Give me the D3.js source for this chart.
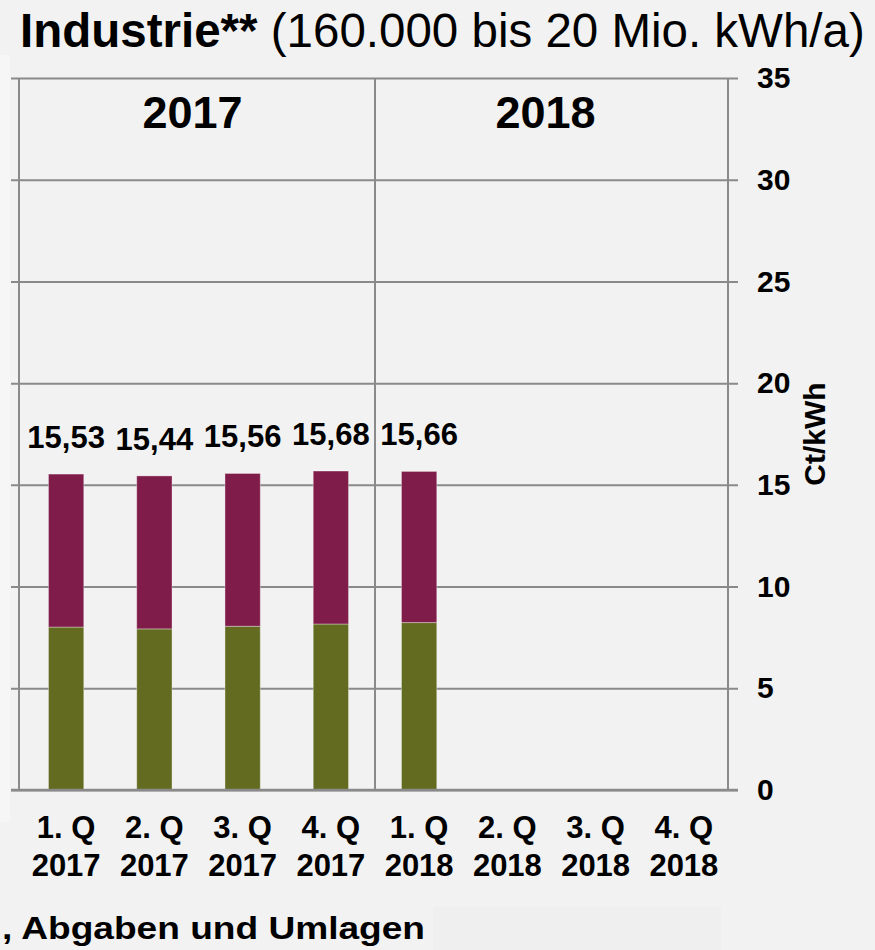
<!DOCTYPE html>
<html>
<head>
<meta charset="utf-8">
<script src="https://cdn.jsdelivr.net/npm/d3@7"></script>
<style>
  html, body { margin: 0; padding: 0; background: #f2f2f2; }
  svg { display: block; font-family: "Liberation Sans", Arial, sans-serif; }
  .grid line { stroke: #8a8a8a; stroke-width: 2; }
  .grid text { font-size: 30px; font-weight: bold; fill: #000; }
</style>
</head>
<body>
<svg id="chart" width="875" height="950"></svg>
<script>
// quarters shown on the x axis (label line 1 / line 2)
var quarters = ["1. Q", "2. Q", "3. Q", "4. Q", "1. Q", "2. Q", "3. Q", "4. Q"]
var quarterYears = ["2017", "2017", "2017", "2017", "2018", "2018", "2018", "2018"]
var years = ["2017", "2018"]

// Ct/kWh, only the first five quarters have values
var netzEnergie = [8.01, 7.92, 8.05, 8.16, 8.23]      // green part
var steuernAbgaben = [7.52, 7.52, 7.51, 7.52, 7.43]   // maroon part

var yTicks = [0, 5, 10, 15, 20, 25, 30, 35]

var svg = d3.select("#chart")

// background pieces
svg.append("rect").attr("width", 875).attr("height", 950).attr("fill", "#f2f2f2")
svg.append("rect").attr("x", 0).attr("y", 55).attr("width", 10).attr("height", 767).attr("fill", "#f6f6f6")
svg.append("rect").attr("x", 433).attr("y", 907).attr("width", 288).attr("height", 43).attr("fill", "#efefef")

var x = d3.scaleBand()
  .domain(d3.range(quarters.length))
  .range([22, 728])
  .paddingInner(0.6)
  .paddingOuter(0.3)

var y = d3.scaleLinear().domain([0, 35]).range([790, 78])

// gridlines + right hand tick labels
var yAxis = d3.axisRight(y)
  .tickValues(yTicks)
  .tickSize(727)
  .tickPadding(19)
  .tickFormat(d3.format("d"))

svg.append("g")
  .attr("class", "grid")
  .attr("transform", "translate(11,0)")
  .call(yAxis)
  .call(function(g){ g.select(".domain").remove() })

// vertical separators: left edge, between years, right axis
var step = x.step()
var xEdges = [19, x.range()[0] + 4 * step, 728]
svg.selectAll(".vline")
  .data(xEdges)
  .enter().append("line")
    .attr("class", "vline")
    .attr("x1", function(d){ return d }).attr("x2", function(d){ return d })
    .attr("y1", y(35)).attr("y2", y(0))
    .attr("stroke", "#8a8a8a")
    .attr("stroke-width", 2)

// stacked bars
var rows = netzEnergie.map(function(v, i){
  return { i: i, netz: v, steuern: steuernAbgaben[i] }
})
var stack = d3.stack().keys(["netz", "steuern"])(rows)
var colors = { netz: "#636b21", steuern: "#7f1c4a" }

svg.selectAll(".layer")
  .data(stack)
  .enter().append("g")
    .attr("class", "layer")
    .attr("fill", function(d){ return colors[d.key] })
  .selectAll("rect")
  .data(function(d){ return d })
  .enter().append("rect")
    .attr("x", function(d){ return x(d.data.i) })
    .attr("width", x.bandwidth())
    .attr("y", function(d){ return y(d[1]) })
    .attr("height", function(d){ return y(d[0]) - y(d[1]) })
    .attr("stroke", "rgba(255,255,255,0.35)")
    .attr("stroke-width", 1)

// redraw the zero line on top of the bars
svg.append("line")
  .attr("x1", 11).attr("x2", 738)
  .attr("y1", y(0)).attr("y2", y(0))
  .attr("stroke", "#8a8a8a").attr("stroke-width", 2.5)

// totals above bars
var fmt = function(v){ return d3.format(".2f")(v).replace(".", ",") }
svg.selectAll(".total")
  .data(rows)
  .enter().append("text")
    .attr("class", "total")
    .attr("x", function(d){ return x(d.i) + x.bandwidth() / 2 })
    .attr("y", function(d){ return y(d.netz + d.steuern) - 26 })
    .attr("text-anchor", "middle")
    .attr("font-size", 31)
    .attr("font-weight", "bold")
    .text(function(d){ return fmt(d.netz + d.steuern) })

// x labels, two lines
var xl = svg.selectAll(".xlab")
  .data(quarters)
  .enter().append("text")
    .attr("class", "xlab")
    .attr("text-anchor", "middle")
    .attr("font-size", 31)
    .attr("font-weight", "bold")
xl.append("tspan")
  .attr("x", function(d, i){ return x(i) + x.bandwidth() / 2 })
  .attr("y", 838)
  .text(function(d){ return d })
xl.append("tspan")
  .attr("x", function(d, i){ return x(i) + x.bandwidth() / 2 })
  .attr("y", 876)
  .text(function(d, i){ return quarterYears[i] })

// year headers
svg.selectAll(".year")
  .data(years)
  .enter().append("text")
    .attr("class", "year")
    .attr("x", function(d, i){ return x.range()[0] + (i * 4 + 2) * step - 6 })
    .attr("y", 128)
    .attr("text-anchor", "middle")
    .attr("font-size", 45)
    .attr("font-weight", "bold")
    .text(function(d){ return d })

// axis title
svg.append("text")
  .attr("transform", "translate(825,434) rotate(-90)")
  .attr("text-anchor", "middle")
  .attr("font-size", 30)
  .attr("font-weight", "bold")
  .text("Ct/kWh")

// chart title
var title = svg.append("text")
  .attr("x", 20)
  .attr("y", 47)
  .attr("font-size", 47.5)
title.append("tspan").attr("font-weight", "bold").text("Industrie**")
title.append("tspan").text(" (160.000 bis 20 Mio. kWh/a)")

// cut-off legend text at the bottom
svg.append("text")
  .attr("x", 2)
  .attr("y", 939)
  .attr("font-size", 31)
  .attr("font-weight", "bold")
  .attr("textLength", 423)
  .attr("lengthAdjust", "spacingAndGlyphs")
  .text(", Abgaben und Umlagen")
</script>
</body>
</html>
